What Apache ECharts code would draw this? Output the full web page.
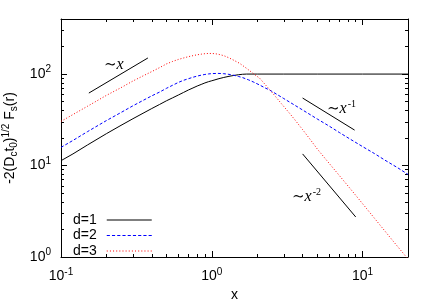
<!DOCTYPE html>
<html><head><meta charset="utf-8">
<script src="https://cdn.jsdelivr.net/npm/echarts@6/dist/echarts.min.js"></script>
<style>html,body{margin:0;padding:0;background:#fff}#c{width:436px;height:305px}</style>
</head><body><div id="c"></div>
<script>
// ---- data ----
const d1X = [0.1, 0.12, 0.15, 0.2, 0.25, 0.3, 0.35, 0.4, 0.45, 0.5, 0.55, 0.6, 0.65, 0.7, 0.75, 0.8, 0.85, 0.9, 0.95, 1.0, 1.05, 1.1, 1.15, 1.2, 1.3, 1.4, 1.5, 1.6, 1.7, 2, 3, 5, 10, 20];
const d1Y = [11.3, 13.4, 16.8, 22.3, 27.5, 32.5, 37.3, 42, 46.5, 51, 55, 59, 63, 67, 70.5, 74, 77, 80, 82.5, 84.5, 86.5, 88.5, 90.2, 91.8, 94.5, 96.6, 98.3, 99.5, 100, 100, 100, 100, 100, 100];
const d2X = [0.1, 0.12, 0.15, 0.2, 0.25, 0.3, 0.35, 0.4, 0.45, 0.5, 0.55, 0.6, 0.65, 0.7, 0.75, 0.8, 0.85, 0.9, 0.95, 1.0, 1.1, 1.2, 1.3, 1.4, 1.5, 1.6, 1.75, 1.9, 2.08, 2.25, 2.42, 2.7, 3, 3.5, 4, 5, 6, 7, 8, 10, 12, 14, 17, 20];
const d2Y = [15.8, 18.8, 23.5, 31, 38, 45, 51.5, 57.8, 63.5, 69.8, 75.5, 81, 85.5, 89, 92.3, 95, 97.3, 99, 100.3, 101.2, 101.7, 101, 99.3, 97, 94.2, 91.5, 86.5, 81.5, 75.8, 70.7, 66.9, 60, 54, 46.3, 40.5, 32.3, 27, 23, 20.1, 16.1, 13.5, 11.5, 9.5, 8.0];
const d3X = [0.1, 0.12, 0.15, 0.2, 0.25, 0.3, 0.35, 0.4, 0.45, 0.5, 0.55, 0.6, 0.65, 0.7, 0.75, 0.8, 0.85, 0.9, 0.95, 1.0, 1.05, 1.1, 1.2, 1.3, 1.4, 1.53, 1.7, 1.88, 2.08, 2.3, 2.53, 2.9, 3.29, 3.6, 4, 4.5, 5, 5.75, 7, 8.5, 10.6, 13, 16, 20];
const d3Y = [30.4, 36.1, 44.5, 58.5, 71, 84, 95.5, 106.5, 117.5, 129, 137.5, 144.5, 150, 155, 159, 162.5, 165, 167, 168, 168, 167, 165, 159, 150.5, 141.5, 131, 115.5, 101.7, 89.8, 74.3, 62, 47.3, 37, 30.8, 24.7, 19.2, 15.2, 11.5, 7.8, 5.3, 3.4, 2.25, 1.48, 0.95];
const seriesNames = ['d=1', 'd=2', 'd=3'];
// guide lines ~x, ~x^-1, ~x^-2
const guide1X = [0.153, 0.377], guide1Y = [62, 150];
const guide2X = [4.0, 8.85], guide2Y = [54.7, 24.4];
const guide3X = [4.0, 9.0], guide3Y = [13.4, 2.74];
// axis ranges & ticks
const xRange = [0.1, 20];
const yRange = [1, 400];
const xMinorTicks = [0.2, 0.3, 0.4, 0.5, 0.6, 0.7, 0.8, 0.9, 2, 3, 4, 5, 6, 7, 8, 9];
const yMinorTicks = [2, 3, 4, 5, 6, 7, 8, 9, 20, 30, 40, 50, 60, 70, 80, 90, 200, 300];
const xName = 'x';
const yName = '-2(D{b|c}t{b|0}){s|1/2} F{b|s}(r)';

const pair = (xs, ys) => xs.map((x, i) => [x, ys[i]]);
const SANS = 'Liberation Sans, Arial, sans-serif';
const COLORS = ['#000000', '#0000ff', '#ff0000'];
const DASHES = ['solid', [3, 2], [1, 2]];
// legend sample line icons (45 units wide, 1 unit tall): solid / dashed / dotted
function dashIcon(on, off) {
  let p = 'path://';
  for (let x = 0; x < 45; x += on + off) p += 'M' + x + ',0h' + Math.min(on, 45 - x) + 'v1h-' + Math.min(on, 45 - x) + 'z';
  return p;
}
const ICONS = ['path://M0,0h45v1h-45z', dashIcon(3, 2), dashIcon(1, 2)];
const lblRich = {
  s: { fontSize: 10, fontFamily: SANS, color: '#000', padding: [0, 0, 9, 0] }
};
const fmt = v => {
  const e = Math.log10(v);
  if (Math.abs(e - Math.round(e)) > 1e-6) return '';
  return '10{s|' + Math.round(e) + '}';
};

function mkX(pos, major, labels) {
  return {
    type: 'log', logBase: 10, min: xRange[0], max: xRange[1], position: pos, gridIndex: 0,
    axisLine: { show: major, onZero: false, lineStyle: { color: '#000', width: 1 } },
    axisTick: major ? { show: true, inside: true, length: 6, lineStyle: { color: '#000' } }
                    : { show: true, inside: true, length: 3, customValues: xMinorTicks, lineStyle: { color: '#000' } },
    axisLabel: { show: labels, formatter: fmt, fontSize: 14, fontFamily: SANS, color: '#000', margin: 10,
                 rich: lblRich, hideOverlap: false, showMinLabel: true, showMaxLabel: true },
    splitLine: { show: false }, minorTick: { show: false },
    name: labels ? xName : '', nameLocation: 'middle', nameGap: 30,
    nameTextStyle: { fontSize: 14, fontFamily: SANS, color: '#000' }
  };
}
function mkY(pos, major, labels) {
  return {
    type: 'log', logBase: 10, min: yRange[0], max: yRange[1], position: pos, gridIndex: 0,
    axisLine: { show: major, onZero: false, lineStyle: { color: '#000', width: 1 } },
    axisTick: major ? { show: true, inside: true, length: 6, lineStyle: { color: '#000' } }
                    : { show: true, inside: true, length: 3, customValues: yMinorTicks, lineStyle: { color: '#000' } },
    axisLabel: { show: labels, formatter: fmt, fontSize: 14, fontFamily: SANS, color: '#000', margin: 10,
                 rich: lblRich, hideOverlap: false },
    splitLine: { show: false }, minorTick: { show: false },
    name: labels ? yName : '', nameLocation: 'middle', nameGap: 36, nameRotate: 90,
    nameTextStyle: { fontSize: 14, fontFamily: SANS, color: '#000',
      rich: { b: { fontSize: 10, fontFamily: SANS, color: '#000', padding: [7, 0, 0, 0] },
              s: { fontSize: 10, fontFamily: SANS, color: '#000', padding: [0, 0, 9, 0] } } }
  };
}

const guideSeries = (xs, ys) => ({
  type: 'line', data: pair(xs, ys), showSymbol: false, symbol: 'none', silent: true,
  lineStyle: { color: '#000', width: 1 }, z: 3
});
const curve = (i, xs, ys) => ({
  name: seriesNames[i], type: 'line', data: pair(xs, ys), showSymbol: false, symbol: 'none',
  lineStyle: { color: COLORS[i], width: 1, type: DASHES[i] }, itemStyle: { color: COLORS[i] }
});

const chart = echarts.init(document.getElementById('c'), null, { renderer: 'canvas' });
chart.setOption({
  animation: false,
  backgroundColor: '#fff',
  grid: { left: 61, right: 28, top: 19, bottom: 48, containLabel: false, outerBoundsMode: 'none' },
  xAxis: [mkX('bottom', true, true), mkX('bottom', false, false), mkX('top', true, false), mkX('top', false, false)],
  yAxis: [mkY('left', true, true), mkY('left', false, false), mkY('right', true, false), mkY('right', false, false)],
  legend: {
    data: seriesNames.map((n, i) => ({ name: n, icon: ICONS[i],
      itemStyle: { color: COLORS[i], opacity: 1, borderWidth: 0 } })),
    orient: 'vertical', left: 68, top: 208, align: 'right',
    itemWidth: 45, itemHeight: 10, itemGap: 1.5, symbolKeepAspect: true,
    textStyle: { fontSize: 14, lineHeight: 14, fontFamily: SANS, color: '#000', padding: [0, 5, 0, 0] }
  },
  series: [
    curve(0, d1X, d1Y),
    curve(1, d2X, d2Y),
    curve(2, d3X, d3Y),
    guideSeries(guide1X, guide1Y),
    guideSeries(guide2X, guide2Y),
    guideSeries(guide3X, guide3Y)
  ],
  graphic: [
    { type: 'text', x: 104, y: 65, style: { text: '{t|∼}{x|x}', verticalAlign: 'middle', rich: {
      t: { fontSize: 15, fontFamily: 'DejaVu Serif', fill: '#000' }, x: { fontSize: 16, fontStyle: 'italic', fontFamily: 'Liberation Serif', fill: '#000' } } } },
    { type: 'text', x: 327, y: 109, style: { text: '{t|∼}{x|x}{s|-1}', verticalAlign: 'middle', rich: {
      t: { fontSize: 15, fontFamily: 'DejaVu Serif', fill: '#000' }, x: { fontSize: 16, fontStyle: 'italic', fontFamily: 'Liberation Serif', fill: '#000' },
      s: { fontSize: 10, fontFamily: 'Liberation Serif', fill: '#000', padding: [0, 0, 10, 1] } } } },
    { type: 'text', x: 292, y: 197, style: { text: '{t|∼}{x|x}{s|-2}', verticalAlign: 'middle', rich: {
      t: { fontSize: 15, fontFamily: 'DejaVu Serif', fill: '#000' }, x: { fontSize: 16, fontStyle: 'italic', fontFamily: 'Liberation Serif', fill: '#000' },
      s: { fontSize: 10, fontFamily: 'Liberation Serif', fill: '#000', padding: [0, 0, 10, 1] } } } }
  ]
});
</script></body></html>
